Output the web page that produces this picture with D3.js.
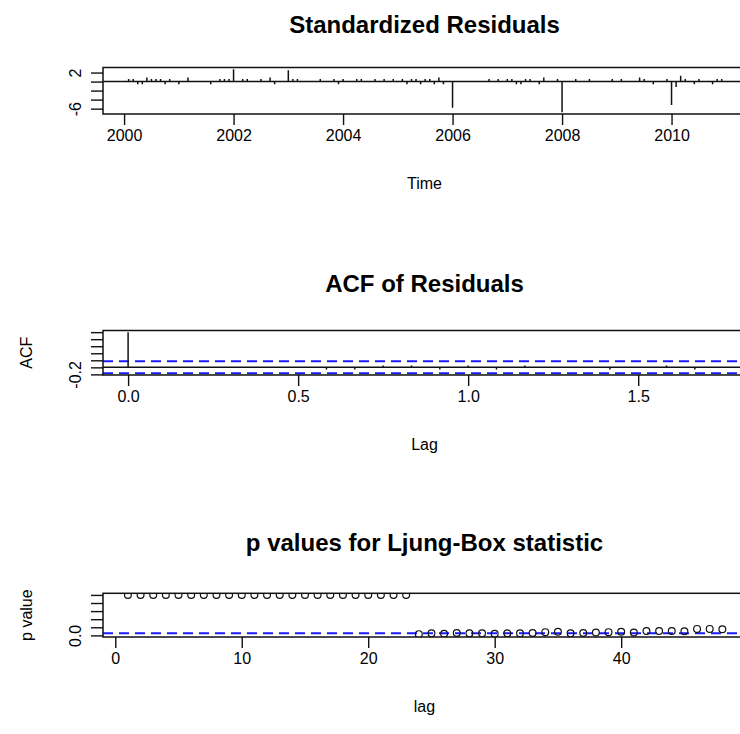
<!DOCTYPE html>
<html lang="en">
<head>
    <meta charset="UTF-8">
    <title>tsdiag: residual diagnostics</title>
    <script src="https://cdnjs.cloudflare.com/ajax/libs/d3/7.8.5/d3.min.js"></script>
    <style>
        body {
            margin: 0;
            background-color: white;
        }
        svg {
            display: block;
            font-family: "Liberation Sans", Arial, sans-serif;
        }
        .title {
            font-family: "Liberation Sans", Arial, sans-serif;
            font-weight: bold;
            font-size: 24px;
        }
        .tick-label, .axis-label {
            font-family: "Liberation Sans", Arial, sans-serif;
            font-size: 16px;
            fill: #000;
        }
    </style>
</head>
<body>
    <svg id="chart" width="740" height="734"></svg>

    <script>
        // Standardized residuals, monthly from Jan 2000 (one row per year)
        const residStart = 2000;
        const residuals = [
             0.1,  0.55,  0.55, -0.6, -0.6,  0.9,  0.55,  0.55,  0.55, -0.6,  0.55,  0.1,
            -0.6,  0.1,   0.9, -0.1,  0.1,  0.1, -0.1,  -0.6,   0.1,  0.55,  0.55,  0.55,
             2.74, 0.1,   0.55, 0.55, -0.1,  0.1,  0.55, -0.1,  0.9,  -0.6,   0.1,  -0.1,
             2.53, 0.55,  0.55, 0.1,  -0.1,  0.1, -0.1,   0.55,  0.1,  -0.1,   0.55, -0.6,
             0.55, 0.1,  -0.1,  0.55,  0.55, 0.1, -0.1,   0.55,  0.1,   0.55, -0.1,   0.55,
             0.1,  0.55, -0.6,  0.55,  0.55, -0.6, 0.55,  0.55, -0.6,   0.9,  -0.6,   0.1,
            -5.83, 0.1,  -0.1,  0.1,  -0.1,  0.1, -0.1,   0.1,   0.55, -0.1,   0.55,  0.1,
             0.55, 0.55, -0.6, -0.6,   0.55, 0.55, 0.1,  -0.6,   0.9,   0.1,  -0.1,   0.55,
            -6.81, 0.1,  -0.1,  0.55,  0.1, -0.1,  0.55,  0.1,  -0.1,   0.1,  -0.1,   0.55,
             0.1,  0.55, -0.1,  0.1,  -0.1,  0.9,  0.55,  0.1,  -0.6,   0.1,  -0.1,   0.55,
            -5.22,-1.2,   1.3,  0.55,  0.1, -0.6,  0.55,  0.1,  -0.1,  -0.6,   0.55,  0.55
        ];
        const timeTicks = [2000, 2002, 2004, 2006, 2008, 2010];
        const residTicks = [-6, -4, -2, 0, 2];
        const residTickLabels = ["-6", "", "", "", "2"];

        // ACF of residuals, lags 0..21 (in years, frequency 12)
        const acfValues = [1, 0.01, -0.01, 0.01, -0.01, 0.01, -0.01, -0.06, -0.06, 0.05, 0.05,
                           -0.06, 0.05, -0.06, 0.05, 0.01, -0.01, -0.06, 0.01, 0.05, -0.06, 0.01];
        const acfFreq = 12;
        const acfClim = 0.1706;
        const lagTicks = [0, 0.5, 1, 1.5];
        const lagTickLabels = ["0.0", "0.5", "1.0", "1.5"];
        const acfTicks = [-0.2, 0, 0.2, 0.4, 0.6, 0.8, 1.0];
        const acfTickLabels = ["-0.2", "", "", "", "", "", ""];

        // Ljung-Box p values, lags 1..48
        const pValues = [
            1, 1, 1, 1, 1, 1, 1, 1, 1, 1, 1, 1,
            1, 1, 1, 1, 1, 1, 1, 1, 1, 1, 1, 0.03,
            0.05, 0.04, 0.06, 0.05, 0.05, 0.04, 0.05, 0.05, 0.06, 0.08, 0.09, 0.05,
            0.06, 0.07, 0.08, 0.09, 0.07, 0.11, 0.11, 0.11, 0.10, 0.16, 0.16, 0.15
        ];
        const pLevel = 0.05;
        const gofTicks = [0, 10, 20, 30, 40];
        const pTicks = [0, 0.2, 0.4, 0.6, 0.8, 1.0];
        const pTickLabels = ["0.0", "", "", "", "", ""];

        const svg = d3.select("#chart");
        const boxLeft = 103, boxRight = 746;
        const tickLen = 11;

        // one panel = frame, axes, titles; returns scales and a clipped group
        function panel(cfg) {
            const x = d3.scaleLinear().domain(cfg.xDomain).range([boxLeft, boxRight]);
            const y = d3.scaleLinear().domain(cfg.yDomain).range([cfg.bottom, cfg.top]);
            const g = svg.append("g");

            g.append("clipPath").attr("id", cfg.id)
                .append("rect")
                .attr("x", boxLeft).attr("y", cfg.top)
                .attr("width", boxRight - boxLeft).attr("height", cfg.bottom - cfg.top);

            const plot = g.append("g").attr("clip-path", `url(#${cfg.id})`);

            const xAxis = d3.axisBottom(x).tickValues(cfg.xTicks)
                .tickFormat((d, i) => cfg.xLabels ? cfg.xLabels[i] : d)
                .tickSize(tickLen).tickPadding(5);
            g.append("g").attr("transform", `translate(0,${cfg.bottom})`).call(xAxis)
                .attr("font-family", null).attr("font-size", null)
                .call(a => a.select(".domain").remove())
                .call(a => a.selectAll("line").attr("stroke", "#111").attr("stroke-width", 1.4))
                .call(a => a.selectAll("text").attr("class", "tick-label").attr("fill", null));

            const yAxis = d3.axisLeft(y).tickValues(cfg.yTicks)
                .tickFormat((d, i) => cfg.yLabels[i])
                .tickSize(tickLen + 1);
            g.append("g").attr("transform", `translate(${boxLeft},0)`).call(yAxis)
                .attr("font-family", null).attr("font-size", null)
                .call(a => a.select(".domain").remove())
                .call(a => a.selectAll("line").attr("stroke", "#111").attr("stroke-width", 1.4))
                .call(a => a.selectAll("text").attr("class", "tick-label").attr("fill", null)
                    .attr("x", 0).attr("y", 0).attr("dy", null)
                    .attr("text-anchor", "middle")
                    .attr("transform", "translate(-22,0) rotate(-90)"));

            // frame
            g.append("rect")
                .attr("x", boxLeft).attr("y", cfg.top)
                .attr("width", boxRight - boxLeft).attr("height", cfg.bottom - cfg.top)
                .attr("fill", "none").attr("stroke", "#111").attr("stroke-width", 1.5);

            g.append("text").attr("class", "title")
                .attr("x", (boxLeft + boxRight) / 2).attr("y", cfg.titleY)
                .attr("text-anchor", "middle").text(cfg.title);

            g.append("text").attr("class", "axis-label")
                .attr("x", (boxLeft + boxRight) / 2).attr("y", cfg.bottom + 75)
                .attr("text-anchor", "middle").text(cfg.xLabel);

            if (cfg.yLabel) {
                g.append("text").attr("class", "axis-label")
                    .attr("transform", `translate(32,${(cfg.top + cfg.bottom) / 2}) rotate(-90)`)
                    .attr("text-anchor", "middle").text(cfg.yLabel);
            }
            return { x, y, plot };
        }

        // Panel 1: standardized residuals (type = "h")
        const p1 = panel({
            id: "clip1", top: 67.5, bottom: 114, titleY: 32.5,
            xDomain: [1999.615, 2011.36], yDomain: [-7.19, 3.12],
            xTicks: timeTicks, yTicks: residTicks, yLabels: residTickLabels,
            title: "Standardized Residuals", xLabel: "Time", yLabel: ""
        });
        p1.plot.append("line")
            .attr("x1", boxLeft).attr("x2", boxRight)
            .attr("y1", p1.y(0)).attr("y2", p1.y(0))
            .attr("stroke", "#111").attr("stroke-width", 1.5);
        p1.plot.selectAll("line.resid")
            .data(residuals)
            .enter().append("line")
            .attr("class", "resid")
            .attr("x1", (d, i) => p1.x(residStart + i / 12))
            .attr("x2", (d, i) => p1.x(residStart + i / 12))
            .attr("y1", p1.y(0))
            .attr("y2", d => p1.y(d))
            .attr("stroke", "#111").attr("stroke-width", 1.5);

        // Panel 2: ACF of residuals
        const p2 = panel({
            id: "clip2", top: 330.5, bottom: 375, titleY: 292,
            xDomain: [-0.0738, 1.817], yDomain: [-0.2174, 1.0468],
            xTicks: lagTicks, xLabels: lagTickLabels,
            yTicks: acfTicks, yLabels: acfTickLabels,
            title: "ACF of Residuals", xLabel: "Lag", yLabel: "ACF"
        });
        p2.plot.append("line")
            .attr("x1", boxLeft).attr("x2", boxRight)
            .attr("y1", p2.y(0)).attr("y2", p2.y(0))
            .attr("stroke", "#111").attr("stroke-width", 1.5);
        [acfClim, -acfClim].forEach(c => {
            p2.plot.append("line")
                .attr("x1", boxLeft).attr("x2", boxRight)
                .attr("y1", p2.y(c)).attr("y2", p2.y(c))
                .attr("stroke", "#1a1aff").attr("stroke-width", 2)
                .attr("stroke-dasharray", "10 6");
        });
        p2.plot.selectAll("line.acf")
            .data(acfValues)
            .enter().append("line")
            .attr("class", "acf")
            .attr("x1", (d, i) => p2.x(i / acfFreq))
            .attr("x2", (d, i) => p2.x(i / acfFreq))
            .attr("y1", p2.y(0))
            .attr("y2", d => p2.y(d))
            .attr("stroke", "#111").attr("stroke-width", 1.5);

        // Panel 3: Ljung-Box p values
        const p3 = panel({
            id: "clip3", top: 593.3, bottom: 637, titleY: 551,
            xDomain: [-0.97, 49.87], yDomain: [-0.04, 1.04],
            xTicks: gofTicks, yTicks: pTicks, yLabels: pTickLabels,
            title: "p values for Ljung-Box statistic", xLabel: "lag", yLabel: "p value"
        });
        p3.plot.append("line")
            .attr("x1", boxLeft).attr("x2", boxRight)
            .attr("y1", p3.y(pLevel)).attr("y2", p3.y(pLevel))
            .attr("stroke", "#1a1aff").attr("stroke-width", 2)
            .attr("stroke-dasharray", "10 6");
        p3.plot.selectAll("circle.pv")
            .data(pValues)
            .enter().append("circle")
            .attr("class", "pv")
            .attr("cx", (d, i) => p3.x(i + 1))
            .attr("cy", d => p3.y(d))
            .attr("r", 3.4)
            .attr("fill", "none").attr("stroke", "#111").attr("stroke-width", 1.2);
    </script>
</body>
</html>
